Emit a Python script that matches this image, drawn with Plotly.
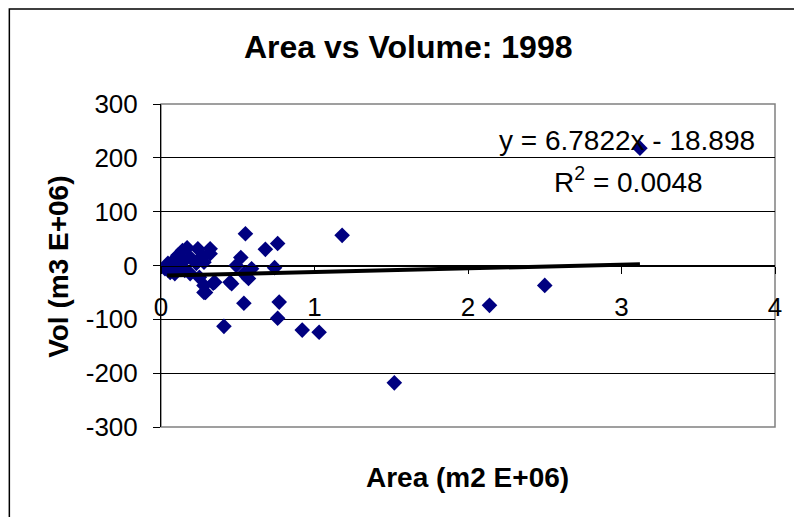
import plotly.graph_objects as go

# Data (Area in m2 E+06, Volume in m3 E+06)
area = [0.026, 0.045, 0.06, 0.08, 0.09, 0.11, 0.11, 0.135, 0.14, 0.155, 0.17, 0.19, 0.19,
        0.23, 0.24, 0.25, 0.26, 0.27, 0.28, 0.28, 0.28, 0.29, 0.32, 0.32, 0.35, 0.34,
        0.45, 0.46, 0.41, 0.49, 0.52, 0.54, 0.55, 0.57, 0.59, 0.54, 0.68, 0.74, 0.76,
        0.77, 0.76, 0.92, 1.03, 1.18, 1.52, 2.14, 2.50, 3.12]
volume = [-6, 4, -13, 9, -15, 19, -4, 4, 28, -9, 33, 15, -15,
          4, 31, -22, 13, 18, 6, -37, -50, -50, 31, 22, -31, -33,
          -31, -34, -113, 0, 15, -15, 59, -24, -6, -70, 30, -4, 41,
          -68, -98, -120, -124, 56, -218, -74, -37, 218]

slope = 6.7822
intercept = -18.898
trend_x = [0.04, 3.12]
trend_y = [slope * v + intercept for v in trend_x]

x_ticks = [0, 1, 2, 3, 4]
x_tick_labels = ["0", "1", "2", "3", "4"]
y_ticks = [-300, -200, -100, 0, 100, 200, 300]
y_tick_labels = ["-300", "-200", "-100", "0", "100", "200", "300"]

FONT = "Liberation Sans, Arial, sans-serif"

fig = go.Figure()
fig.add_trace(go.Scatter(
    x=area, y=volume, mode="markers",
    marker=dict(symbol="diamond", size=12, color="#000080", line=dict(width=0)),
    showlegend=False))
fig.add_trace(go.Scatter(
    x=trend_x, y=trend_y, mode="lines",
    line=dict(color="black", width=4), showlegend=False))

fig.update_layout(
    width=794, height=517,
    margin=dict(l=161, r=14, t=104, b=90),
    paper_bgcolor="white", plot_bgcolor="white",
    font=dict(family=FONT, size=26, color="black"),
    xaxis=dict(range=[0, 4], tickvals=x_ticks, ticktext=x_tick_labels,
               showgrid=False, zeroline=False,
               showline=True, linecolor="black", linewidth=1,
               anchor="free", position=0.5,
               ticks="outside", ticklen=7, tickcolor="black",
               ticklabelstandoff=11, tickfont=dict(size=26)),
    yaxis=dict(range=[-300, 300], tickvals=y_ticks, ticktext=y_tick_labels,
               showgrid=True, gridcolor="black", gridwidth=1, zeroline=False,
               showline=True, linecolor="black", linewidth=1,
               ticks="outside", ticklen=7, tickcolor="black",
               ticklabelstandoff=10, tickfont=dict(size=26)),
    shapes=[
        dict(type="rect", xref="paper", yref="paper", x0=0, x1=1, y0=0, y1=1,
             line=dict(color="#808080", width=1.5), layer="below"),
        dict(type="rect", xref="paper", yref="paper", x0=-0.247, x1=1.2, y0=-0.5, y1=1.294,
             line=dict(color="black", width=1.5)),
    ],
    annotations=[
        dict(text="<b>Area vs Volume: 1998</b>", xref="paper", yref="paper",
             x=(410 - 161) / 619, y=(427 - 47) / 323, showarrow=False,
             font=dict(size=32), xanchor="center", yanchor="middle"),
        dict(text="<b>Area (m2 E+06)</b>", xref="paper", yref="paper",
             x=(470 - 161) / 619, y=(427 - 477) / 323, showarrow=False,
             font=dict(size=28), xanchor="center", yanchor="middle"),
        dict(text="<b>Vol (m3 E+06)</b>", xref="paper", yref="paper",
             x=(57 - 161) / 619, y=(427 - 267) / 323, showarrow=False,
             font=dict(size=28), textangle=-90, xanchor="center", yanchor="middle"),
        dict(text="y = 6.7822x - 18.898", xref="paper", yref="paper",
             x=(631 - 161) / 619, y=(427 - 140) / 323, showarrow=False,
             font=dict(size=28), xanchor="center", yanchor="middle"),
        dict(text="R<sup>2</sup> = 0.0048", xref="paper", yref="paper",
             x=(632 - 161) / 619, y=(427 - 180) / 323, showarrow=False,
             font=dict(size=28), xanchor="center", yanchor="middle"),
    ],
)

fig.write_html("out.html")
